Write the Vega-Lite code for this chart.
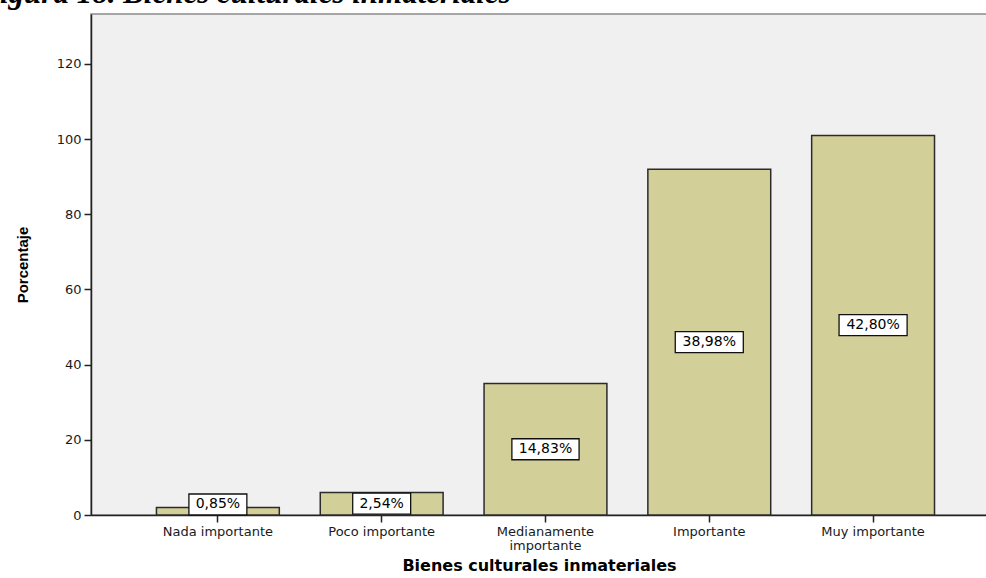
{
  "$schema": "https://vega.github.io/schema/vega-lite/v6.json",
  "width": 896,
  "height": 501,
  "autosize": {"type": "none"},
  "padding": {"left": 91, "top": 14, "right": 0, "bottom": 63},
  "background": "white",
  "title": {
    "text": "igura 18. Bienes culturales inmateriales",
    "anchor": "start",
    "frame": "group",
    "dx": -91,
    "offset": 6,
    "dy": 26,
    "baseline": "alphabetic",
    "font": "Liberation Serif",
    "fontSize": 31,
    "fontStyle": "italic",
    "fontWeight": "bold",
    "color": "black"
  },
  "config": {
    "view": {"fill": "#F0F0F0", "stroke": "#8a8a8a", "strokeWidth": 1.5},
    "axis": {
      "labelFont": "DejaVu Sans",
      "labelFontSize": 13,
      "labelColor": "#1a1a1a",
      "titleColor": "black",
      "domainColor": "#222222",
      "domainWidth": 1.5,
      "tickColor": "#222222",
      "tickWidth": 1.5,
      "tickSize": 7,
      "grid": false
    }
  },
  "data": {
    "values": [
      {"categoria": "Nada importante", "value": 2, "label": "0,85%"},
      {"categoria": "Poco importante", "value": 6, "label": "2,54%"},
      {"categoria": "Medianamente importante", "value": 35, "label": "14,83%"},
      {"categoria": "Importante", "value": 92, "label": "38,98%"},
      {"categoria": "Muy importante", "value": 101, "label": "42,80%"}
    ]
  },
  "encoding": {
    "x": {
      "field": "categoria",
      "type": "nominal",
      "sort": null,
      "scale": {"paddingInner": 0.25, "paddingOuter": 0.36, "align": 0.555},
      "axis": {
        "title": "Bienes culturales inmateriales",
        "titleFont": "DejaVu Sans",
        "titleFontWeight": "bold",
        "titleFontSize": 16,
        "titlePadding": 5,
        "labelAngle": 0,
        "labelPadding": 3,
        "labelLineHeight": 14,
        "labelExpr": "datum.label == 'Medianamente importante' ? ['Medianamente', 'importante'] : datum.label"
      }
    }
  },
  "layer": [
    {
      "mark": {"type": "bar", "fill": "#D3CF98", "stroke": "#2b2b2b", "strokeWidth": 1.5},
      "encoding": {
        "y": {
          "field": "value",
          "type": "quantitative",
          "scale": {"domain": [0, 133.3], "nice": false},
          "axis": {
            "title": "Porcentaje",
            "values": [0, 20, 40, 60, 80, 100, 120],
            "titleFont": "Liberation Sans",
            "titleFontWeight": "bold",
            "titleFontSize": 15,
            "titlePadding": 26,
            "labelPadding": 3
          }
        }
      }
    },
    {
      "transform": [{"calculate": "max(datum.value / 2, 2.8)", "as": "mid"}],
      "mark": {"type": "point", "filled": true, "fill": "white", "stroke": "#111111", "strokeWidth": 1.3, "opacity": 1, "size": 441},
      "encoding": {
        "y": {"field": "mid", "type": "quantitative"},
        "shape": {
          "field": "label",
          "type": "nominal",
          "legend": null,
          "scale": {
            "domain": ["0,85%", "2,54%", "14,83%", "38,98%", "42,80%"],
            "range": [
              "M-2.76,-1H2.76V1H-2.76Z",
              "M-2.76,-1H2.76V1H-2.76Z",
              "M-3.2,-1H3.2V1H-3.2Z",
              "M-3.24,-1H3.24V1H-3.24Z",
              "M-3.24,-1H3.24V1H-3.24Z"
            ]
          }
        }
      }
    },
    {
      "transform": [{"calculate": "max(datum.value / 2, 2.8)", "as": "mid"}],
      "mark": {"type": "text", "font": "DejaVu Sans", "fontSize": 14, "color": "black", "baseline": "middle"},
      "encoding": {
        "y": {"field": "mid", "type": "quantitative"},
        "text": {"field": "label"}
      }
    }
  ]
}
